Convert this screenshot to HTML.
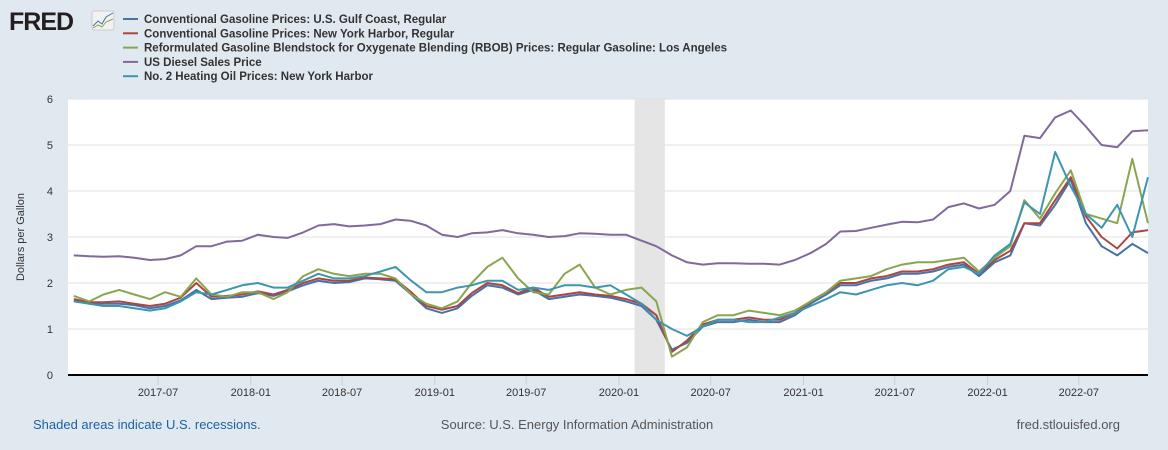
<!DOCTYPE html>
<html><head><meta charset="utf-8"><style>
body{margin:0;background:#e1e9f0;font-family:"Liberation Sans",sans-serif}
#wrap{position:relative;width:1168px;height:450px;background:#e1e9f0;overflow:hidden}
</style></head><body>
<div id="wrap">
<svg id="chart" width="1168" height="450" xmlns="http://www.w3.org/2000/svg">
<g>
<text x="9" y="30" font-family="Liberation Sans,sans-serif" font-weight="bold" font-size="25" fill="#231f20" letter-spacing="-1">FRED</text>
<rect x="92" y="11" width="22" height="19" rx="2" fill="#f2f2f2" stroke="#ccc"/>
<polyline points="93,26 98,21 102,24 106,17 113,13" fill="none" stroke="#4572a7" stroke-width="1"/>
<polyline points="93,28 98,25 102,27 106,22 113,19" fill="none" stroke="#89a54e" stroke-width="1"/>
</g>
<g id="legend"></g>
<rect x="68" y="99" width="1080" height="276" fill="#fff"/>
<g id="grid"></g><g id="rec"></g><g id="series"></g><g id="axes"></g>
<text x="24" y="237" transform="rotate(-90 24 237)" text-anchor="middle" font-size="11" fill="#333">Dollars per Gallon</text>
<text x="33" y="429" font-size="13" fill="#1f5fa6">Shaded areas indicate U.S. recessions.</text>
<text x="577" y="429" text-anchor="middle" font-size="13" fill="#555">Source: U.S. Energy Information Administration</text>
<text x="1120" y="429" text-anchor="end" font-size="13" fill="#555">fred.stlouisfed.org</text>
</svg>
</div>
<script>
const seriesNames=["Conventional Gasoline Prices: U.S. Gulf Coast, Regular","Conventional Gasoline Prices: New York Harbor, Regular","Reformulated Gasoline Blendstock for Oxygenate Blending (RBOB) Prices: Regular Gasoline: Los Angeles","US Diesel Sales Price","No. 2 Heating Oil Prices: New York Harbor"];
const seriesColors=["#4572a7","#aa4643","#89a54e","#80699b","#3d96ae"];
const yTicks=[0,1,2,3,4,5,6];
const xTickLabels=["2017-07","2018-01","2018-07","2019-01","2019-07","2020-01","2020-07","2021-01","2021-07","2022-01","2022-07"];
const recessionStart="2020-02-01", recessionEnd="2020-04-01";
const startMonth="2017-01";
const gulf=[1.62,1.55,1.55,1.55,1.52,1.45,1.50,1.62,1.85,1.65,1.68,1.70,
1.78,1.72,1.82,1.95,2.05,2.0,2.02,2.1,2.08,2.05,1.75,1.45,
1.35,1.45,1.72,1.95,1.9,1.75,1.85,1.65,1.7,1.75,1.72,1.68,
1.6,1.5,1.2,0.55,0.7,1.05,1.15,1.15,1.2,1.15,1.15,1.3,
1.55,1.75,1.95,1.95,2.05,2.1,2.2,2.2,2.25,2.35,2.4,2.15,
2.45,2.6,3.3,3.25,3.7,4.25,3.3,2.8,2.6,2.85,2.65];
const nyh=[1.65,1.58,1.58,1.6,1.55,1.5,1.55,1.68,2.0,1.7,1.72,1.75,
1.82,1.75,1.85,2.0,2.1,2.05,2.05,2.12,2.1,2.08,1.8,1.5,
1.42,1.5,1.78,2.0,1.95,1.78,1.9,1.7,1.75,1.8,1.75,1.72,
1.65,1.55,1.3,0.5,0.75,1.1,1.2,1.2,1.25,1.2,1.2,1.35,
1.6,1.8,2.0,2.0,2.1,2.15,2.25,2.25,2.3,2.4,2.45,2.2,
2.5,2.7,3.3,3.3,3.8,4.3,3.45,3.0,2.75,3.1,3.15];
const rbobLA=[1.72,1.6,1.75,1.85,1.75,1.65,1.8,1.7,2.1,1.75,1.7,1.8,
1.8,1.65,1.8,2.15,2.3,2.2,2.15,2.2,2.2,2.1,1.75,1.55,
1.45,1.6,2.0,2.35,2.55,2.1,1.8,1.75,2.2,2.4,1.9,1.75,
1.85,1.9,1.6,0.4,0.6,1.15,1.3,1.3,1.4,1.35,1.3,1.4,
1.6,1.8,2.05,2.1,2.15,2.3,2.4,2.45,2.45,2.5,2.55,2.25,
2.55,2.8,3.8,3.4,3.95,4.45,3.5,3.4,3.3,4.7,3.3];
const diesel=[2.6,2.58,2.57,2.58,2.55,2.5,2.52,2.6,2.8,2.8,2.9,2.92,
3.05,3.0,2.98,3.1,3.25,3.28,3.23,3.25,3.28,3.38,3.35,3.25,
3.05,3.0,3.08,3.1,3.15,3.08,3.05,3.0,3.02,3.08,3.07,3.05,
3.05,2.92,2.8,2.6,2.45,2.4,2.43,2.43,2.42,2.42,2.4,2.5,
2.65,2.85,3.12,3.13,3.2,3.27,3.33,3.32,3.38,3.65,3.73,3.62,
3.7,4.0,5.2,5.15,5.6,5.75,5.4,5.0,4.95,5.3,5.32];
const heatingOil=[1.6,1.55,1.5,1.5,1.45,1.4,1.45,1.6,1.8,1.75,1.85,1.95,
2.0,1.9,1.9,2.05,2.2,2.1,2.1,2.15,2.25,2.35,2.05,1.8,
1.8,1.9,1.95,2.05,2.05,1.85,1.9,1.85,1.95,1.95,1.9,1.95,
1.75,1.55,1.2,1.0,0.85,1.05,1.2,1.2,1.15,1.15,1.25,1.35,
1.5,1.65,1.8,1.75,1.85,1.95,2.0,1.95,2.05,2.3,2.35,2.2,
2.6,2.85,3.75,3.5,4.85,4.1,3.5,3.2,3.7,3.0,4.3];
const allSeries=[gulf,nyh,rbobLA,diesel,heatingOil];
const seriesKeys=["gulf-coast","ny-harbor","rbob-la","diesel","heating-oil"];

const NS="http://www.w3.org/2000/svg";
const PL=68,PR=1148,PT=99,PB=375,YMAX=6;
const t0=Date.UTC(2017,6,1), pxPerDay=184.2/365.25, x0=158;
function xDate(ms){return x0+(ms-t0)/86400000*pxPerDay;}
function xStr(s){const p=s.split("-");return xDate(Date.UTC(+p[0],+p[1]-1,p[2]?+p[2]:1));}
function xMonth(i){const p=startMonth.split("-");return xDate(Date.UTC(+p[0],+p[1]-1+i,15));}
function y(v){return PB-(v/YMAX)*(PB-PT);}
function mk(tag,attrs,parent){const e=document.createElementNS(NS,tag);for(const k in attrs)e.setAttribute(k,attrs[k]);parent.appendChild(e);return e;}

const grid=document.getElementById("grid");
yTicks.forEach(t=>{
  if(t>0){const l=mk("line",{x1:PL,x2:PR,y1:y(t),y2:y(t),stroke:"#e0e0e0","stroke-width":1},grid);
  
  }
  const tx=mk("text",{x:53,y:y(t)+4,"text-anchor":"end","font-size":11,fill:"#333"},grid);
  tx.textContent=t;
  
  
});
const rec=document.getElementById("rec");
const r=mk("rect",{x:xStr(recessionStart),y:PT,width:xStr(recessionEnd)-xStr(recessionStart),height:PB-PT,fill:"#e5e5e5"},rec);



const axes=document.getElementById("axes");
const base=mk("line",{x1:PL,x2:PR,y1:PB,y2:PB,stroke:"#000","stroke-width":2},axes);


xTickLabels.forEach(lbl=>{
  const x=xStr(lbl);
  const tk=mk("line",{x1:x,x2:x,y1:PB+1,y2:PB+10,stroke:"#c0d0e0","stroke-width":1},axes);
  
  
  const tx=mk("text",{x:x,y:PB+21,"text-anchor":"middle","font-size":11,fill:"#333"},axes);
  tx.textContent=lbl;
  
  
});

const sg=document.getElementById("series");
allSeries.forEach((arr,i)=>{
  const pts=arr.map((v,j)=>xMonth(j).toFixed(1)+","+y(v).toFixed(1)).join(" ");
  const pl=mk("polyline",{points:pts,fill:"none",stroke:seriesColors[i],"stroke-width":2,"stroke-linejoin":"round"},sg);
  
  
});

const lg=document.getElementById("legend");
seriesNames.forEach((n,i)=>{
  const yy=19+i*14.3;
  const g=mk("g",{},lg);
  
  
  mk("line",{x1:123,x2:138,y1:yy,y2:yy,stroke:seriesColors[i],"stroke-width":2},g);
  const t=mk("text",{x:144,y:yy+4,"font-size":11.5,"font-weight":"bold",fill:"#333"},g);
  t.textContent=n;
});
</script>
</body></html>
